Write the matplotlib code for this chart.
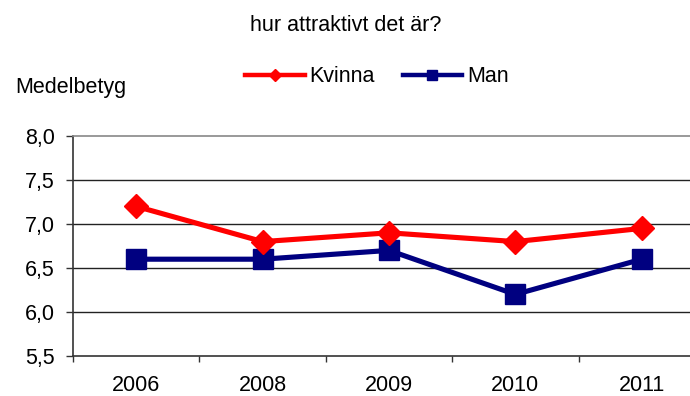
import matplotlib
matplotlib.use("Agg")
import matplotlib.pyplot as plt
from matplotlib.ticker import FixedLocator, FuncFormatter
from matplotlib.lines import Line2D

years = ["2006", "2008", "2009", "2010", "2011"]
kvinna = [7.2, 6.8, 6.9, 6.8, 6.95]
man = [6.6, 6.6, 6.7, 6.2, 6.6]
y_ticks = [5.5, 6.0, 6.5, 7.0, 7.5, 8.0]

plt.rcParams["font.family"] = ["Liberation Sans", "DejaVu Sans"]
FS = 15.5

W, H = 690, 396
fig = plt.figure(figsize=(W / 100, H / 100), dpi=100)
left, right, top, bottom = 73, 705, 136, 356
ax = fig.add_axes([left / W, (H - bottom) / H, (right - left) / W, (bottom - top) / H])

x = list(range(len(years)))
red = "#FF0000"
navy = "#000080"

ax.plot(x, kvinna, color=red, lw=3.7, marker="D", ms=12.5, mec=red, mfc=red,
        label="Kvinna", zorder=4, solid_joinstyle="miter")
ax.plot(x, man, color=navy, lw=3.7, marker="s", ms=14, mec=navy, mfc=navy,
        label="Man", zorder=3, solid_joinstyle="miter")

ax.set_xlim(-0.5, len(years) - 0.5)
ax.set_ylim(y_ticks[0], y_ticks[-1])

ax.set_yticks(y_ticks)
ax.yaxis.set_major_formatter(FuncFormatter(lambda v, p: f"{v:.1f}".replace(".", ",")))
ax.set_xticks(x)
ax.set_xticklabels(years)
ax.xaxis.set_minor_locator(FixedLocator([i - 0.5 for i in range(len(years) + 1)]))
ax.tick_params(axis="x", which="major", length=0, pad=14, labelsize=FS)
ax.tick_params(axis="x", which="minor", length=4, width=1, color="#333333", direction="out")
ax.tick_params(axis="y", length=5, width=1, color="#333333", direction="out", pad=8, labelsize=FS)

for v in y_ticks[1:-1]:
    ax.axhline(v, color="#222222", lw=1, zorder=1)

for s in ["left", "bottom"]:
    ax.spines[s].set_color("#333333")
    ax.spines[s].set_linewidth(1.2)
ax.spines["top"].set_color("#888888")
ax.spines["top"].set_linewidth(1.2)
ax.spines["right"].set_color("#888888")

fig.text(346 / W, 1 - 31 / H, "hur attraktivt det är?", ha="center", va="baseline", fontsize=FS)
fig.text(15 / W, 1 - 93 / H, "Medelbetyg", ha="left", va="baseline", fontsize=FS)

handles = [
    Line2D([], [], color=red, lw=3.2, marker="D", ms=6.5, mec=red, mfc=red),
    Line2D([], [], color=navy, lw=3.2, marker="s", ms=7, mec=navy, mfc=navy),
]
fig.legend(handles, ["Kvinna", "Man"], loc="center", bbox_to_anchor=(377 / W, 1 - 77 / H),
           ncol=2, frameon=False, fontsize=FS, handlelength=2.75, handletextpad=0.23,
           columnspacing=1.3, borderaxespad=0, borderpad=0)

fig.savefig("out.png", dpi=100)
